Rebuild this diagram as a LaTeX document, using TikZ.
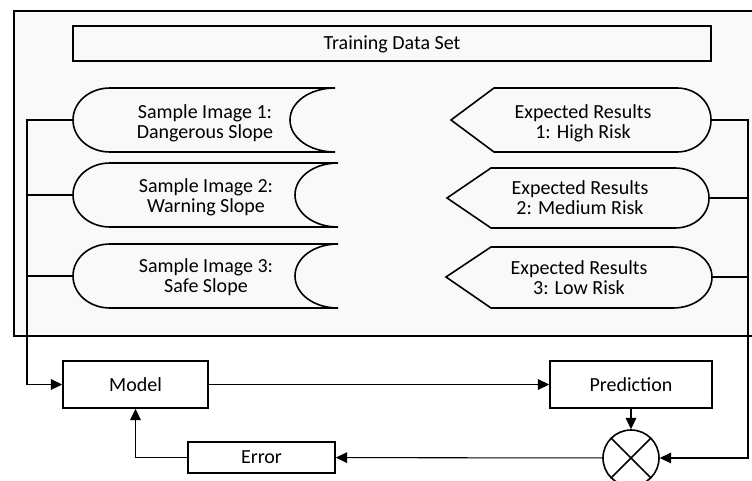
\documentclass[tikz,border=0pt]{standalone}
\usepackage{fontspec}
\setmainfont{Carlito}
\usetikzlibrary{arrows.meta}
\definecolor{framebg}{RGB}{249,249,249}

\tikzset{
  shp/.style={line width=1.2pt},
  box/.style={draw, line width=1.2pt, inner sep=0pt},
  conn/.style={line width=0.8pt},
  arr/.style={conn, -{Triangle[length=8.5pt,width=8pt]}},
  txt/.style={align=center}
}

\begin{document}
\begin{tikzpicture}[x=0.75pt,y=0.75pt,yscale=-1,xscale=1,font=\fontsize{15}{15}\selectfont]
\useasboundingbox (0,0) rectangle (752,481);

%Shape: Frame of the data set
\fill [framebg] (14,11) rectangle (762,336);
\draw [line width=1.2pt] (762,11) -- (14,11) -- (14,336) -- (762,336);

%Shape: Training Data Set box
\draw [shp] (73,26) rectangle (711,61);

%Shape: Sample Image 1
\draw [shp] (110,88) -- (335,88) .. controls (310,88) and (290,102) .. (290,120) .. controls (290,138) and (310,152) .. (335,152) -- (110,152) .. controls (89.6,152) and (73,138) .. (73,120) .. controls (73,102) and (89.6,88) .. (110,88) -- cycle;
%Shape: Sample Image 2
\draw [shp] (110,163) -- (338,163) .. controls (314,163) and (295,177) .. (295,195) .. controls (295,213) and (314,227) .. (338,227) -- (110,227) .. controls (89.6,227) and (73,213) .. (73,195) .. controls (73,177) and (89.6,163) .. (110,163) -- cycle;
%Shape: Sample Image 3
\draw [shp] (110,244) -- (338,244) .. controls (314,244) and (295,258) .. (295,276) .. controls (295,294) and (314,308) .. (338,308) -- (110,308) .. controls (89.6,308) and (73,294) .. (73,276) .. controls (73,258) and (89.6,244) .. (110,244) -- cycle;

%Shape: Expected Results 1
\draw [shp] (451,120) -- (494,88) -- (677,88) .. controls (696,88) and (711,102) .. (711,120) .. controls (711,138) and (696,152) .. (677,152) -- (494,152) -- cycle;
%Shape: Expected Results 2
\draw [shp] (447,198) -- (491,168) -- (675,168) .. controls (694,168) and (709,181) .. (709,198) .. controls (709,215) and (694,228) .. (675,228) -- (491,228) -- cycle;
%Shape: Expected Results 3
\draw [shp] (446,277) -- (491,247) -- (673,247) .. controls (694,247) and (712,260) .. (712,277) .. controls (712,295) and (694,308) .. (673,308) -- (491,308) -- cycle;

% end points of the shapes
\coordinate (s1) at (73,120);
\coordinate (s2) at (73,195);
\coordinate (s3) at (73,276);
\coordinate (e1) at (711,120);
\coordinate (e2) at (709,198);
\coordinate (e3) at (712,277);
\coordinate (lbus) at (27,120);
\coordinate (rbus) at (748,120);

% Text Node
\node (tds) [txt] at (392,44) {Training Data Set};
% Text Node
\node (smp1) [txt] at (205,123) {Sample Image 1:\\Dangerous Slope};
% Text Node
\node (smp2) [txt] at (206,197.5) {Sample Image 2:\\Warning Slope};
% Text Node
\node (smp3) [txt] at (206,277) {Sample Image 3:\\Safe Slope};
% Text Node
\node (exp1) [txt] at (583,123) {Expected Results\\1: High Risk};
% Text Node
\node (exp2) [txt] at (580,197.5) {Expected Results\\2: Medium Risk};
% Text Node
\node (exp3) [txt] at (579,278) {Expected Results\\3: Low Risk};

% Blocks
\node (model) [box, minimum width=108.75pt, minimum height=35.25pt] at (135.5,384.5) {Model};
\node (pred) [box, minimum width=121.5pt, minimum height=35.25pt] at (631,384.5) {Prediction};
\node (err) [box, minimum width=110.25pt, minimum height=23.25pt] at (261.5,457.5) {Error};
\node (cmp) [draw, circle, line width=1.2pt, minimum size=42pt, inner sep=0pt] at (631,458) {};
\draw [line width=1.2pt] (cmp.north west) -- (cmp.south east) (cmp.north east) -- (cmp.south west);

% Connectors
\draw [arr] (s1) -- (lbus) |- (model.west);
\draw [conn] (s2) -- (s2 -| lbus);
\draw [conn] (s3) -- (s3 -| lbus);
\draw [arr] (e1) -- (rbus) |- (cmp.east);
\draw [conn] (e2) -- (e2 -| rbus);
\draw [conn] (e3) -- (e3 -| rbus);
\draw [arr] (model) -- (pred);
\draw [arr] (pred) -- (cmp);
\draw [arr] (cmp) -- (err);
\draw [arr] (err.west) -| (model.south);

\end{tikzpicture}
\end{document}
